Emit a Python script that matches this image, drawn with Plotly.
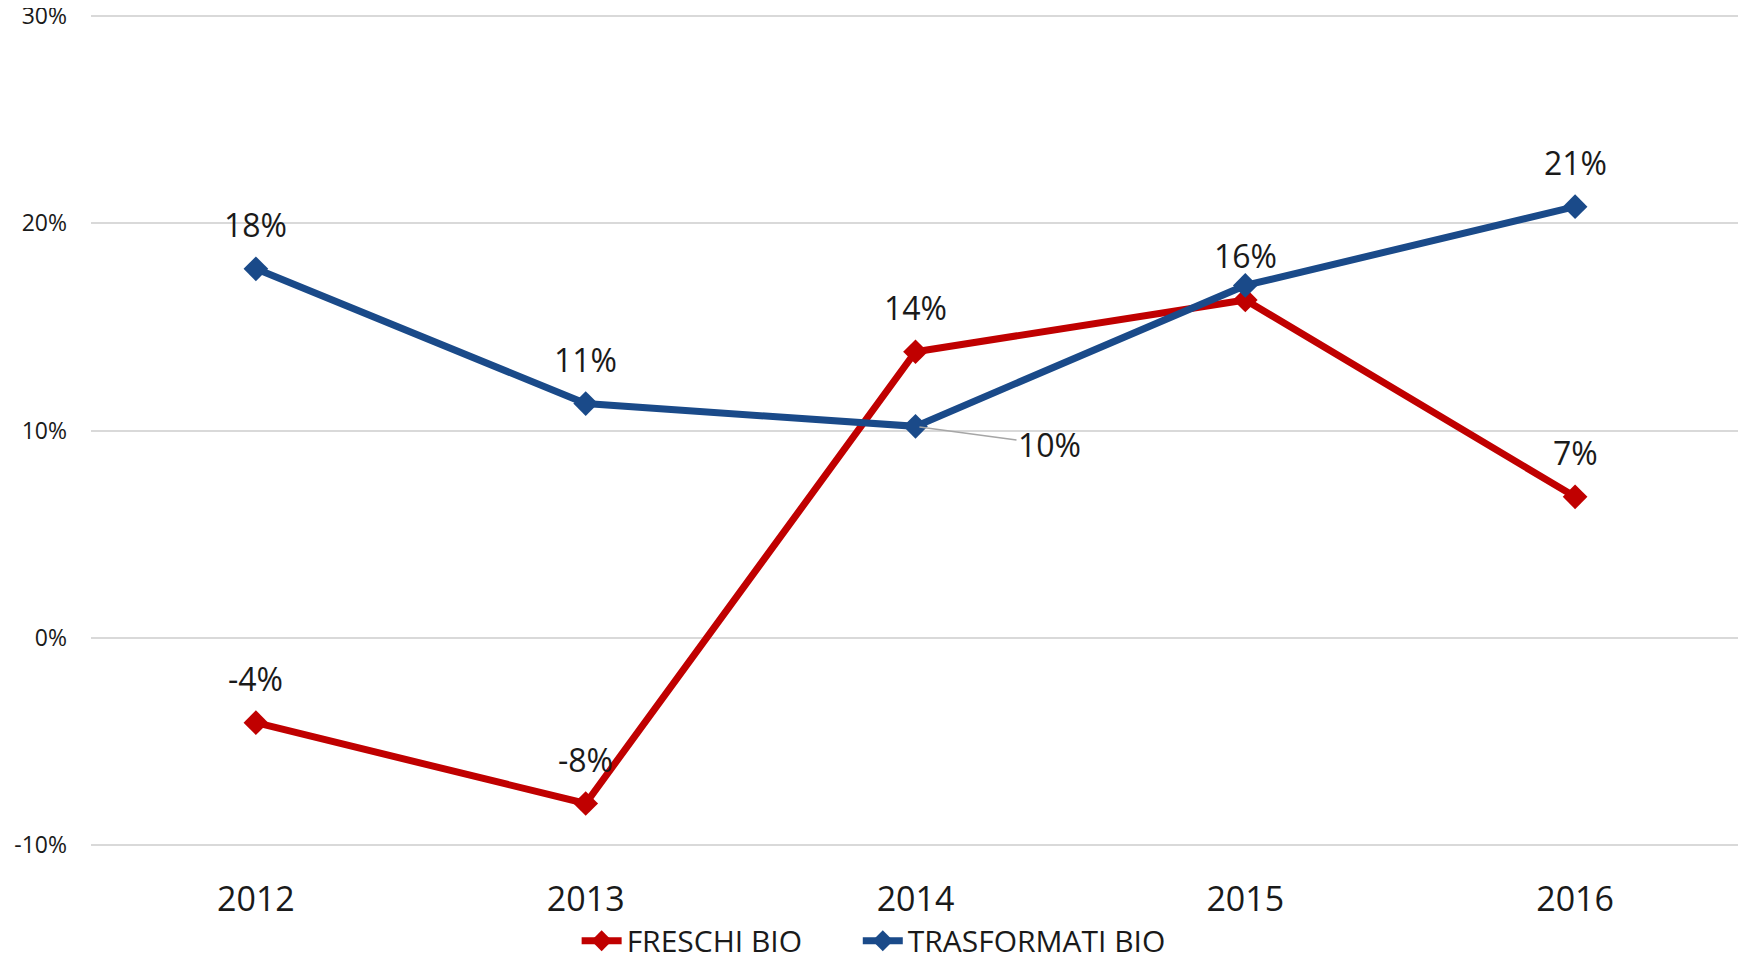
import plotly.graph_objects as go

years = ["2012", "2013", "2014", "2015", "2016"]
freschi = [-0.041, -0.080, 0.138, 0.163, 0.068]
trasformati = [0.178, 0.113, 0.102, 0.170, 0.208]

# which data labels are visible (as in the source chart)
freschi_show = [True, True, True, True, True]
trasformati_show = [True, True, False, False, True]

y_ticks = [-0.10, 0.0, 0.10, 0.20, 0.30]
y_labels = ["-10%", "0%", "10%", "20%", "30%"]

RED = "#C00000"
BLUE = "#1A4A89"
FONT = "Open Sans, Noto Sans, sans-serif"

fig = go.Figure()

fig.add_trace(go.Scatter(
    x=years, y=freschi, name="FRESCHI BIO", mode="lines+markers",
    line=dict(color=RED, width=7),
    marker=dict(symbol="diamond", size=19, color=RED),
    legend="legend",
))
fig.add_trace(go.Scatter(
    x=years, y=trasformati, name="TRASFORMATI BIO", mode="lines+markers",
    line=dict(color=BLUE, width=7),
    marker=dict(symbol="diamond", size=19, color=BLUE),
    legend="legend2",
))

# data labels above the points (x given as category index)
for series, show in [(freschi, freschi_show), (trasformati, trasformati_show)]:
    for i, (v, s) in enumerate(zip(series, show)):
        if not s:
            continue
        fig.add_annotation(
            x=i, y=v, text=f"{v * 100:.0f}%", showarrow=False,
            yanchor="middle", yshift=44,
            font=dict(size=32, color="#1a1a1a", family=FONT),
        )

# label with leader line for TRASFORMATI 2014
fig.add_annotation(
    x=2, y=trasformati[2], text=f"{trasformati[2] * 100:.0f}%",
    showarrow=True, arrowhead=0, arrowwidth=1.5, arrowcolor="#A6A6A6",
    ax=134, ay=18, standoff=4,
    font=dict(size=32, color="#1a1a1a", family=FONT),
)

legend_style = dict(
    orientation="h", xanchor="left", y=-0.114, yanchor="middle",
    font=dict(size=30, color="#1a1a1a"), itemwidth=40,
    bgcolor="rgba(0,0,0,0)",
)

# page body adds an 8px margin, so the figure is a bit smaller than the window
fig.update_layout(
    width=1738, height=949,
    margin=dict(l=83, r=6, t=7, b=111, autoexpand=False),
    plot_bgcolor="white", paper_bgcolor="white",
    font=dict(family=FONT, color="#1a1a1a"),
    showlegend=True,
    legend=dict(x=0.2945, **legend_style),
    legend2=dict(x=0.465, **legend_style),
    xaxis=dict(
        type="category", range=[-0.5, 4.5], showgrid=False, showline=False,
        ticks="", tickfont=dict(size=34, color="#1a1a1a"),
        ticklabelstandoff=30,
    ),
    yaxis=dict(
        range=[-0.1005, 0.3005], tickvals=y_ticks, ticktext=y_labels,
        showgrid=True, gridcolor="#D9D9D9", gridwidth=1.5,
        zeroline=False, showline=False, ticks="", ticklabeloverflow="allow",
        tickfont=dict(size=23, color="#1a1a1a"), ticklabelstandoff=23,
    ),
)

fig.write_html("out.html")
